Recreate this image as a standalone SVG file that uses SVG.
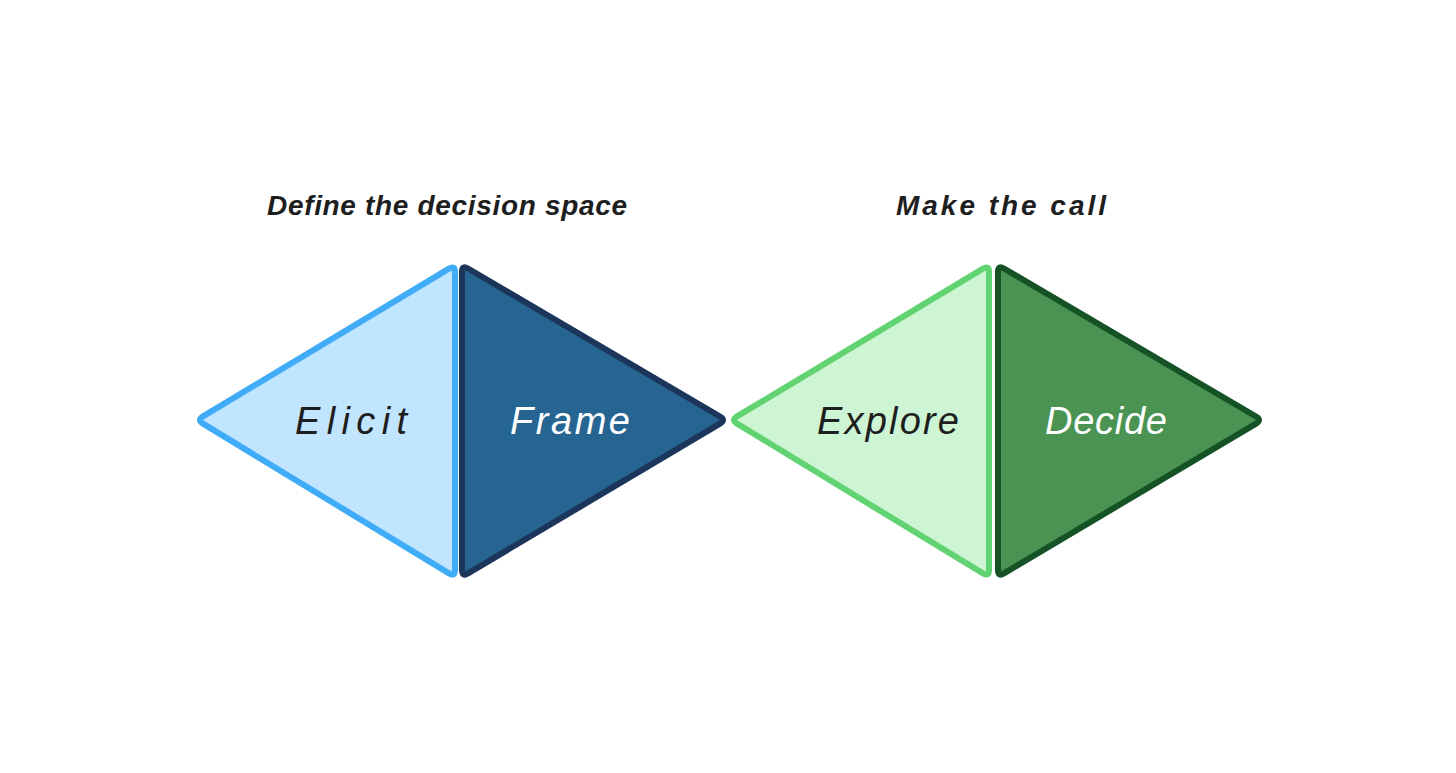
<svg xmlns="http://www.w3.org/2000/svg" width="1456" height="773" viewBox="0 0 1456 773">
  <style>
    .tri { stroke-width: 6; stroke-linejoin: round; }
    .lbl { font-family: "Liberation Sans", "DejaVu Sans", sans-serif; font-style: italic; font-size: 38px; text-anchor: middle; }
    .hdr { font-family: "Liberation Sans", "DejaVu Sans", sans-serif; font-style: italic; font-weight: bold; font-size: 28px; fill: #1e1e1e; text-anchor: middle; }
  </style>
  <defs>
    <path id="leftTri" d="M203,416.4 L449,268.6 Q455,265 455,272 L455,570 Q455,577 449,573.4 L203,423.6 Q197,420 203,416.4 Z"/>
    <path id="rightTri" d="M462,272 Q462,265 468,268.5 L720,416.5 Q726,420 720,423.6 L468,573.4 Q462,577 462,570 Z"/>
  </defs>
  <rect width="1456" height="773" fill="#ffffff"/>
  <g id="header-define">
    <text class="hdr" x="447" y="215" textLength="360" lengthAdjust="spacing">Define the decision space</text>
  </g>
  <g id="header-make">
    <text class="hdr" x="1001" y="215" textLength="210" lengthAdjust="spacing">Make the call</text>
  </g>
  <g id="elicit">
    <use href="#leftTri" class="tri" fill="#c2e5ff" stroke="#40abf7"/>
    <text class="lbl" x="351" y="434" fill="#1e1e1e" textLength="112" lengthAdjust="spacing">Elicit</text>
  </g>
  <g id="frame">
    <use href="#rightTri" class="tri" fill="#266591" stroke="#1b365a"/>
    <text class="lbl" x="570" y="434" fill="#ffffff" textLength="120" lengthAdjust="spacing">Frame</text>
  </g>
  <g id="explore">
    <use href="#leftTri" transform="translate(534,0)" class="tri" fill="#cdf4d3" stroke="#62d372"/>
    <text class="lbl" x="888" y="434" fill="#1e1e1e" textLength="142" lengthAdjust="spacing">Explore</text>
  </g>
  <g id="decide">
    <use href="#rightTri" transform="translate(536,0)" class="tri" fill="#4a9352" stroke="#155226"/>
    <text class="lbl" x="1106" y="434" fill="#ffffff" textLength="122" lengthAdjust="spacing">Decide</text>
  </g>
  <g id="connectors"></g>
</svg>
